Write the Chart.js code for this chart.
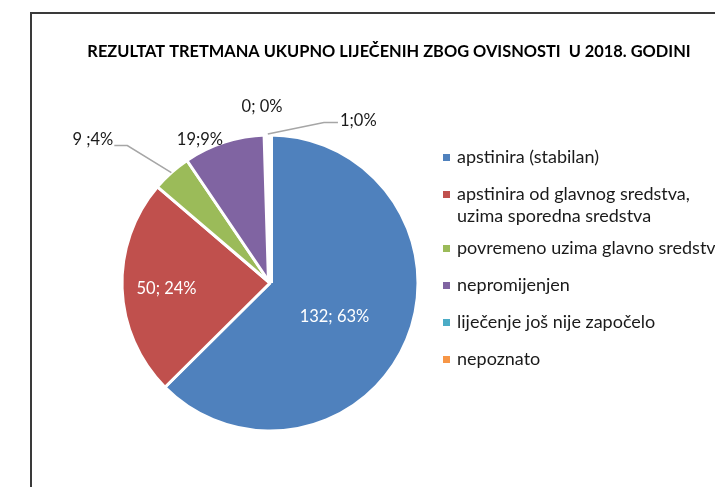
<!DOCTYPE html>
<html><head><meta charset="utf-8">
<script src="https://cdn.jsdelivr.net/npm/chart.js@4"></script>
<style>html,body{margin:0;padding:0;background:#fff;overflow:hidden}#wrap{width:715px;height:487px;position:relative}</style>
</head><body><div id="wrap"><canvas id="c" width="715" height="487"></canvas></div>
<script>
const titleText = "REZULTAT TRETMANA UKUPNO LIJEČENIH ZBOG OVISNOSTI  U 2018. GODINI";
const categories = ["apstinira (stabilan)", "apstinira od glavnog sredstva,\nuzima sporedna sredstva", "povremeno uzima glavno sredstva", "nepromijenjen", "liječenje još nije započelo", "nepoznato"];
const values = [132, 50, 9, 19, 0, 1];
const colors = ["#4F81BD", "#C0504D", "#9BBB59", "#8064A2", "#4BACC6", "#F79646"];
const labelSeparators = ["; ", "; ", " ;", ";", "; ", ";"];
// label placement: polar (degrees clockwise from top, radius factor), inside flag, leader line
const labelPlacement = [
  {a:117.3, r:0.49, inside:true},
  {a:266.7, r:0.70, inside:true},
  {a:309.0, r:1.54, inside:false, leader:"left"},
  {a:334.0, r:1.08, inside:false},
  {a:357.4, r:1.19, inside:false},
  {a:28.5,  r:1.25, inside:false, leader:"right"}
];
const FONT = "Lato, 'Open Sans', sans-serif";

const decor = {
  id:'decor',
  beforeDraw(chart){
    const ctx = chart.ctx;
    ctx.save();
    ctx.strokeStyle = '#3a3a3a'; ctx.lineWidth = 2;
    ctx.beginPath(); ctx.moveTo(31, 490); ctx.lineTo(31, 13); ctx.lineTo(720, 13); ctx.stroke();
    ctx.fillStyle = '#000'; ctx.font = "bold 16.4px " + FONT;
    ctx.textAlign = 'center'; ctx.textBaseline = 'middle';
    ctx.fillText(titleText, 389, 52);
    ctx.restore();
  },
  afterDraw(chart){
    const ctx = chart.ctx;
    const meta = chart.getDatasetMeta(0);
    const total = values.reduce((s,v)=>s+v,0);
    ctx.save();
    ctx.font = "16.5px " + FONT;
    ctx.textBaseline = 'middle'; ctx.textAlign = 'center';
    meta.data.forEach((arc, i) => {
      const p = labelPlacement[i];
      const cx = arc.x, cy = arc.y, R = arc.outerRadius;
      const ang = p.a * Math.PI/180;
      const lx = cx + Math.sin(ang)*R*p.r, ly = cy - Math.cos(ang)*R*p.r;
      const txt = values[i] + labelSeparators[i] + Math.round(values[i]/total*100) + "%";
      const w = ctx.measureText(txt).width;
      if (p.leader){
        const mid = (arc.startAngle + arc.endAngle)/2;
        const ex = cx + Math.cos(mid)*R, ey = cy + Math.sin(mid)*R;
        ctx.strokeStyle = '#A6A6A6'; ctx.lineWidth = 1.5;
        ctx.beginPath();
        if (p.leader === 'left'){
          const sx = lx + w/2 + 1, sy = ly + 6;
          ctx.moveTo(sx, sy); ctx.lineTo(sx + 13, sy); ctx.lineTo(ex, ey);
        } else {
          const sx = lx - w/2 - 2, sy = ly + 2;
          ctx.moveTo(sx, sy); ctx.lineTo(sx - 14, sy); ctx.lineTo(ex, ey - 1);
        }
        ctx.stroke();
      }
      ctx.fillStyle = p.inside ? '#ffffff' : '#1a1a1a';
      ctx.fillText(txt, lx, ly);
    });
    // legend
    ctx.textAlign = 'left';
    ctx.font = "18px " + FONT;
    let y = 157;
    categories.forEach((c, i) => {
      const lines = c.split("\n");
      ctx.fillStyle = colors[i];
      ctx.fillRect(443, y - 3, 7, 7);
      ctx.fillStyle = '#1a1a1a';
      lines.forEach((ln, k) => ctx.fillText(ln, 457, y + k*22));
      y += 37 + (lines.length - 1)*17;
    });
    ctx.restore();
  }
};

new Chart(document.getElementById('c'), {
  type: 'pie',
  data: { labels: categories, datasets: [{ data: values, backgroundColor: colors, borderColor: '#ffffff', borderWidth: [3, 3, 3, 3, 3, 6] }] },
  options: {
    responsive: false, animation: false,
    layout: { padding: { left: 119, right: 294, top: 132, bottom: 53 } },
    plugins: { legend: { display: false }, tooltip: { enabled: false }, title: { display: false } }
  },
  plugins: [decor]
});
</script></body></html>
